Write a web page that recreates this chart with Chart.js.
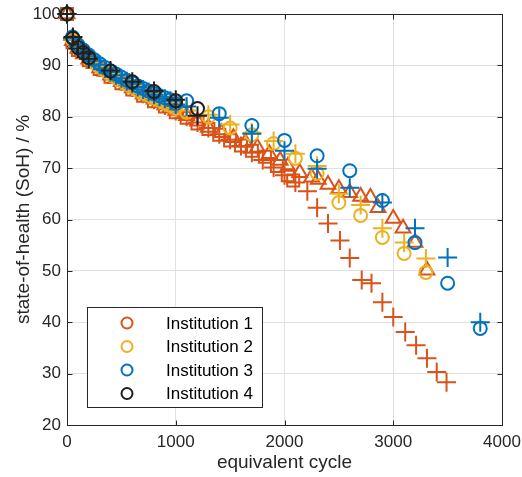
<!DOCTYPE html>
<html>
<head>
<meta charset="utf-8">
<script src="https://cdn.jsdelivr.net/npm/chart.js@4.4.1/dist/chart.umd.min.js"></script>
<style>
  html, body { margin: 0; padding: 0; background: #fff; }
</style>
</head>
<body>
<canvas id="sohChart" width="522" height="477"></canvas>
<script>
// legend labels
const institutions = ['Institution 1', 'Institution 2', 'Institution 3', 'Institution 4'];
const xTicks = [0, 1000, 2000, 3000, 4000];
const yTicks = [20, 30, 40, 50, 60, 70, 80, 90, 100];

// Institution 1 - triangles
const inst1TriX = [0,50,100,150,200,250,300,350,400,450,500,550,600,650,700,750,800,850,900,950,1000,1100,1200,1300,1420,1530,1640,1750,1860,1960,2030,2140,2250,2310,2400,2500,2600,2700,2790,2860,3000,3090,3200,3310];
const inst1TriY = [100,94.8,93.3,92.2,91.2,90.3,89.5,88.8,88.1,87.4,86.8,86.2,85.6,85,84.4,83.9,83.4,82.8,82.3,81.8,81.2,80.2,79.1,77.9,76.9,75.9,75,74,72.8,71.5,70.3,69.1,68.2,67.8,66.8,66,65.2,64.5,64.3,62.3,60.2,58.3,55.5,50.1];
// Institution 1 - squares
const inst1SqX = [0,50,100,200,300,400,500,600,700,800,900,1000,1100,1200,1300,1400,1500,1600,1700,1820,1930,2030,2080];
const inst1SqY = [100,94.5,93,91,89.3,87.8,86.5,85.3,84.1,83,82,80.9,79.8,78.7,77.6,76.5,75.4,74.4,73.4,72.2,70.4,68.6,67.6];
// Institution 1 - plus
const inst1PlusX = [0,50,100,150,200,300,400,500,600,700,800,900,1000,1100,1200,1300,1400,1500,1600,1700,1800,1900,2000,2100,2210,2300,2400,2510,2600,2710,2800,2900,3000,3110,3210,3310,3400,3490];
const inst1PlusY = [100,95,93.5,92.3,91.3,89.6,88.2,86.9,85.7,84.5,83.3,82.2,81.1,80,78.9,77.8,76.6,75.5,74.3,73,71.6,70.1,68.6,67.2,65.5,62.3,59.2,55.9,52.5,48.2,47.6,43.9,41,38.1,35.5,33,30.3,28.3];

// Institution 2
const inst2X = [0,50,100,150,200,250,300,350,400,450,500,550,600,650,700,750,800,850,900,950,1000,1100,1300,1500,1700,1900,2100,2300,2500,2700,2900,3100,3300];
const inst2CircY = [100,95,93.5,92.4,91.4,90.5,89.7,89,88.3,87.6,87,86.4,85.8,85.2,84.7,84.2,83.7,83.2,82.7,82.2,81.7,80.9,80,77.8,76.5,74.8,71.9,69,63.3,60.8,56.5,53.4,49.7];
const inst2PlusY = [100,95.2,93.6,92.5,91.5,90.6,89.8,89.1,88.4,87.7,87.1,86.5,85.9,85.3,84.8,84.3,83.8,83.3,82.8,82.3,81.8,81.2,80.4,78.5,76.9,75.3,72.8,70.4,65,62.8,58.3,55.5,52.4];

// Institution 3
const inst3X = [0,50,100,150,200,250,300,350,400,450,500,550,600,650,700,750,800,850,900,950,1000,1100,1400,1700,2000,2300,2600,2900,3200,3500,3800];
const inst3CircY = [100,95.5,94,93,92,91.1,90.3,89.6,88.9,88.3,87.7,87.1,86.6,86,85.5,85,84.5,84.1,83.7,83.3,82.6,83.1,80.6,78.3,75.4,72.4,69.5,63.7,55.5,47.6,38.8];
const inst3PlusY = [100,95.3,93.8,92.8,91.8,90.9,90.1,89.4,88.7,88.1,87.5,86.9,86.4,85.8,85.3,84.8,84.3,83.9,83.5,83.1,82.4,82,79.8,76.7,73.4,69.9,66.2,63.3,58.3,52.6,40];

// Institution 4
const inst4X = [0,55,100,150,200,400,600,800,1000,1200];
const inst4CircY = [100,95.3,93.5,92.5,91.5,88.9,86.8,84.9,83.1,81.6];
const inst4PlusY = [100,95.5,93.3,92.3,91.3,89,86.8,85,83.3,80.2];

const colors = ['#D95319', '#EDB120', '#0072BD', '#202020'];
const pts = (xs, ys) => xs.map((x, i) => ({ x: x, y: ys[i] }));

function ds(data, color, shape, radius, legendIdx) {
  return {
    data: data,
    label: legendIdx != null ? institutions[legendIdx] : '',
    showLine: false,
    clip: false,
    pointStyle: shape,
    pointRadius: radius,
    pointHoverRadius: radius,
    pointBorderWidth: 2,
    borderColor: color,
    pointBorderColor: color,
    pointBackgroundColor: 'rgba(0,0,0,0)',
    backgroundColor: 'rgba(0,0,0,0)'
  };
}

// first dataset is drawn on top
const datasets = [
  ds(pts(inst4X, inst4CircY), colors[3], 'circle', 6.5, 3),
  ds(pts(inst4X, inst4PlusY), colors[3], 'cross', 9.5),
  ds(pts(inst3X, inst3CircY), colors[2], 'circle', 6.5, 2),
  ds(pts(inst3X, inst3PlusY), colors[2], 'cross', 9.5),
  ds(pts(inst2X, inst2CircY), colors[1], 'circle', 6.5, 1),
  ds(pts(inst2X, inst2PlusY), colors[1], 'cross', 9.5),
  ds(pts(inst1PlusX, inst1PlusY), colors[0], 'cross', 9.5),
  ds(pts(inst1TriX, inst1TriY), colors[0], 'triangle', 8.5, 0),
  ds(pts(inst1SqX, inst1SqY), colors[0], 'rect', 8.5)
];

const axisColor = '#262626';
const fontFam = '"Liberation Sans", Arial, Helvetica, sans-serif';

// box around the axes with inward ticks
const framePlugin = {
  id: 'frame',
  beforeDatasetsDraw(chart) {
    const { ctx, chartArea: a, scales } = chart;
    ctx.save();
    ctx.strokeStyle = axisColor;
    ctx.lineWidth = 1;
    const L = Math.round(a.left) + 0.5, R = Math.round(a.right) + 0.5;
    const T = Math.round(a.top) + 0.5, B = Math.round(a.bottom) + 0.5;
    ctx.strokeRect(L, T, R - L, B - T);
    ctx.beginPath();
    xTicks.forEach(v => {
      const px = Math.round(scales.x.getPixelForValue(v)) + 0.5;
      ctx.moveTo(px, B); ctx.lineTo(px, B - 5);
      ctx.moveTo(px, T); ctx.lineTo(px, T + 5);
    });
    yTicks.forEach(v => {
      const py = Math.round(scales.y.getPixelForValue(v)) + 0.5;
      ctx.moveTo(L, py); ctx.lineTo(L + 5, py);
      ctx.moveTo(R, py); ctx.lineTo(R - 5, py);
    });
    ctx.stroke();
    ctx.restore();
  }
};

// legend box inside the plot (circle markers only)
const legendPlugin = {
  id: 'boxLegend',
  afterDraw(chart) {
    const { ctx } = chart;
    const x0 = 87.5, y0 = 307.5, w = 175, h = 100;
    ctx.save();
    ctx.fillStyle = '#fff';
    ctx.fillRect(x0, y0, w, h);
    ctx.strokeStyle = axisColor;
    ctx.lineWidth = 1;
    ctx.strokeRect(x0, y0, w, h);
    ctx.font = '17px ' + fontFam;
    ctx.textBaseline = 'middle';
    institutions.forEach((name, i) => {
      const cy = 323 + i * 23.5;
      ctx.beginPath();
      ctx.arc(127, cy, 5.5, 0, Math.PI * 2);
      ctx.strokeStyle = colors[i];
      ctx.lineWidth = 2;
      ctx.stroke();
      ctx.fillStyle = '#000';
      ctx.fillText(name, 166, cy + 1);
    });
    ctx.restore();
  }
};

new Chart(document.getElementById('sohChart'), {
  type: 'scatter',
  data: { datasets: datasets },
  plugins: [framePlugin, legendPlugin],
  options: {
    responsive: false,
    animation: false,
    layout: { padding: { left: 0, right: 20, top: 14, bottom: 0 } },
    plugins: { legend: { display: false }, tooltip: { enabled: false } },
    scales: {
      x: {
        type: 'linear',
        min: 0, max: 4000,
        afterBuildTicks: s => { s.ticks = xTicks.map(v => ({ value: v })); },
        afterFit: s => { s.height = 52; s.paddingLeft = 0; s.paddingRight = 0; },
        grid: { color: '#e2e2e2', drawTicks: false },
        border: { display: false },
        ticks: { color: axisColor, font: { size: 17, family: fontFam }, padding: 7, maxRotation: 0, callback: v => String(v) },
        title: { display: true, text: 'equivalent cycle', color: axisColor, font: { size: 19, family: fontFam }, padding: { top: 0, bottom: 3 } }
      },
      y: {
        type: 'linear',
        min: 20, max: 100,
        afterBuildTicks: s => { s.ticks = yTicks.map(v => ({ value: v })); },
        afterFit: s => { s.width = 67; s.paddingTop = 0; s.paddingBottom = 0; },
        grid: { color: '#e2e2e2', drawTicks: false },
        border: { display: false },
        ticks: { color: axisColor, font: { size: 17, family: fontFam }, padding: 6, callback: v => String(v) },
        title: { display: true, text: 'state-of-health (SoH) / %', color: axisColor, font: { size: 19, family: fontFam }, padding: { top: 12, bottom: 0 } }
      }
    }
  }
});
</script>
</body>
</html>
